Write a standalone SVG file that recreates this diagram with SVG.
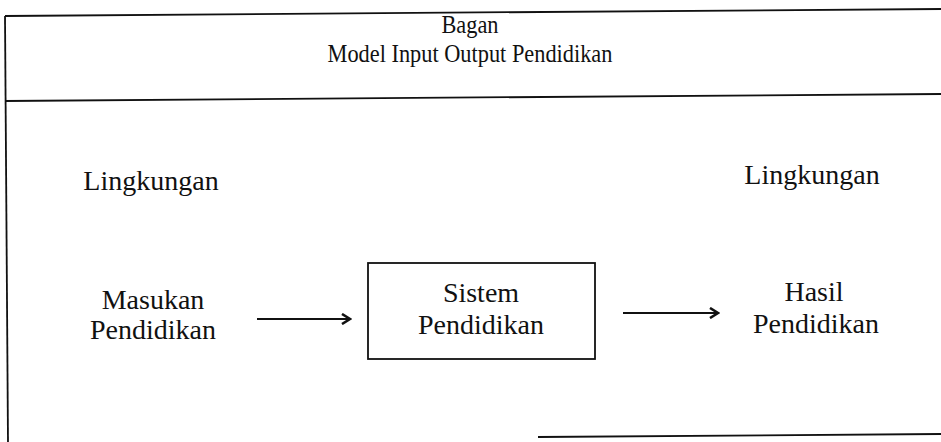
<svg xmlns="http://www.w3.org/2000/svg" width="941" height="442" viewBox="0 0 941 442">
<style>
.ln{stroke:#111;stroke-width:1.8;fill:none}
.t{font-family:"Liberation Serif","Times New Roman",serif;fill:#111;text-anchor:middle}
.h{font-size:26px}
.b{font-size:28px}
</style>
<defs>
<marker id="ah" viewBox="0 0 12 12" refX="10" refY="6" markerWidth="12" markerHeight="12" markerUnits="userSpaceOnUse" orient="auto">
<path d="M2,1 L10,6 L2,11" fill="none" stroke="#111" stroke-width="2.6"/>
</marker>
</defs>
<g id="frame">
<line class="ln" x1="5" y1="16" x2="941" y2="9"/>
<line class="ln" x1="5" y1="16" x2="8" y2="442"/>
<line class="ln" x1="5" y1="101" x2="941" y2="94"/>
<line class="ln" x1="538" y1="437" x2="941" y2="434"/>
</g>
<g id="title" transform="translate(470,0) scale(0.86,1)">
<text class="t h" x="0" y="33">Bagan</text>
<text class="t h" x="0" y="62">Model Input Output Pendidikan</text>
</g>
<g id="lingkungan-left"><text class="t b" x="151" y="190">Lingkungan</text></g>
<g id="lingkungan-right"><text class="t b" x="812" y="184">Lingkungan</text></g>
<g id="masukan">
<text class="t b" x="153" y="309">Masukan</text>
<text class="t b" x="153" y="339">Pendidikan</text>
</g>
<g id="sistem">
<rect class="ln" x="368" y="263" width="227" height="96"/>
<text class="t b" x="481" y="302">Sistem</text>
<text class="t b" x="481" y="334">Pendidikan</text>
</g>
<g id="hasil">
<text class="t b" x="814" y="301">Hasil</text>
<text class="t b" x="816" y="333">Pendidikan</text>
</g>
<g id="connectors">
<line class="ln" x1="257" y1="319" x2="350" y2="319" marker-end="url(#ah)"/>
<line class="ln" x1="623" y1="313" x2="718" y2="313" marker-end="url(#ah)"/>
</g>
</svg>
